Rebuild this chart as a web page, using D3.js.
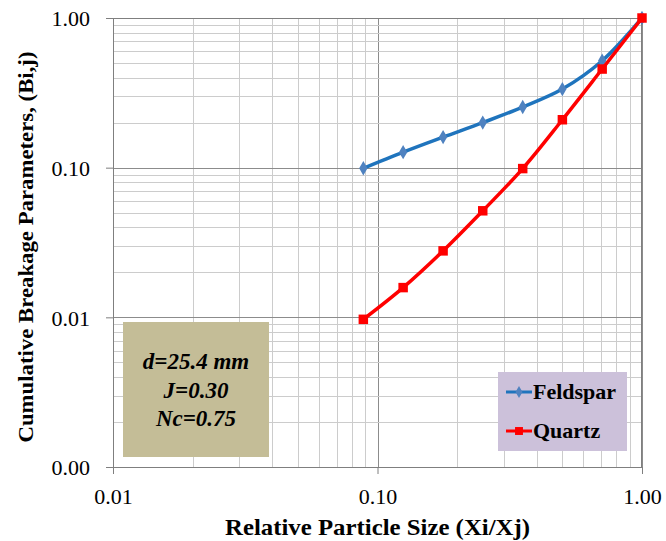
<!DOCTYPE html>
<html>
<head>
<meta charset="utf-8">
<script src="https://cdn.jsdelivr.net/npm/d3@7"></script>
<style>
  body { margin: 0; background: #fff; font-family: "Liberation Serif", serif; }
</style>
</head>
<body>
<svg id="chart" font-family="Liberation Serif"></svg>
<script>
// relative particle size (Xi/Xj)
const sizes = [0.0884, 0.125, 0.177, 0.25, 0.354, 0.5, 0.707, 1.0];
const feldspar = [0.099, 0.127, 0.16, 0.2, 0.254, 0.335, 0.518, 1.0];
const quartz = [0.0097, 0.0158, 0.0278, 0.0515, 0.0986, 0.209, 0.456, 1.0];
const seriesNames = ["Feldspar", "Quartz"];
const xTicks = [0.01, 0.1, 1];
const yTicks = [0.001, 0.01, 0.1, 1];
const infoLines = ["d=25.4 mm", "J=0.30", "Nc=0.75"];

const serif = "Liberation Serif";

const margin = { top: 18, right: 24, bottom: 74, left: 113 },
  width = 666 - margin.left - margin.right,
  height = 541 - margin.top - margin.bottom;

const svg = d3
  .select("#chart")
  .attr("width", width + margin.left + margin.right)
  .attr("height", height + margin.top + margin.bottom)
  .append("g")
  .attr("transform", "translate(" + margin.left + "," + margin.top + ")");

const x = d3.scaleLog().domain([0.01, 1]).range([0, width]);
const y = d3.scaleLog().domain([0.001, 1]).range([height, 0]);

// minor + major grid
function logGrid(lo, hi) {
  const out = [];
  for (let e = Math.log10(lo); e < Math.log10(hi); e++) {
    for (let m = 1; m < 10; m++) out.push({ v: m * Math.pow(10, e), major: m === 1 });
  }
  out.push({ v: hi, major: true });
  return out;
}

const xg = logGrid(0.01, 1);
const yg = logGrid(0.001, 1);

svg
  .selectAll(".vgrid")
  .data(xg)
  .enter()
  .append("line")
  .attr("x1", (d) => Math.round(x(d.v)) + 0.5)
  .attr("x2", (d) => Math.round(x(d.v)) + 0.5)
  .attr("y1", 0)
  .attr("y2", height)
  .attr("stroke", (d) => (d.major ? "#8c8c8c" : "#cccccc"))
  .attr("stroke-width", 1);

svg
  .selectAll(".hgrid")
  .data(yg)
  .enter()
  .append("line")
  .attr("y1", (d) => Math.round(y(d.v)) + 0.5)
  .attr("y2", (d) => Math.round(y(d.v)) + 0.5)
  .attr("x1", 0)
  .attr("x2", width)
  .attr("stroke", (d) => (d.major ? "#8c8c8c" : "#cccccc"))
  .attr("stroke-width", 1);

// axes
const fmt = d3.format(".2f");
const xAxis = svg
  .append("g")
  .attr("transform", "translate(0," + height + ")")
  .call(d3.axisBottom(x).tickValues(xTicks).tickFormat(fmt).tickSizeOuter(0).tickSize(7).tickPadding(14));
const yAxis = svg
  .append("g")
  .call(d3.axisLeft(y).tickValues(yTicks).tickFormat(fmt).tickSizeOuter(0).tickSize(7).tickPadding(16));

[xAxis, yAxis].forEach((a) => {
  a.attr("font-family", serif).attr("font-size", 22);
  a.select(".domain").attr("stroke", "#7f7f7f");
  a.selectAll(".tick line").attr("stroke", "#7f7f7f");
  a.selectAll("text").attr("fill", "#000");
});
yAxis.selectAll("text").attr("dy", "0.35em");

// top and right border
svg.append("line").attr("x1", 0).attr("x2", width).attr("y1", 0.5).attr("y2", 0.5).attr("stroke", "#7f7f7f");
svg.append("line").attr("x1", width - 0.5).attr("x2", width - 0.5).attr("y1", 0).attr("y2", height).attr("stroke", "#7f7f7f");

// axis titles
svg
  .append("text")
  .attr("x", x(0.1))
  .attr("y", height + 68)
  .attr("text-anchor", "middle")
  .attr("font-family", serif)
  .attr("font-size", 23)
  .attr("font-weight", "bold")
  .attr("textLength", 305)
  .attr("lengthAdjust", "spacingAndGlyphs")
  .text("Relative Particle Size (Xi/Xj)");

svg
  .append("text")
  .attr("transform", "rotate(-90)")
  .attr("x", -(247 - margin.top))
  .attr("y", 33 - margin.left)
  .attr("text-anchor", "middle")
  .attr("font-family", serif)
  .attr("font-size", 22)
  .attr("font-weight", "bold")
  .attr("textLength", 391)
  .attr("lengthAdjust", "spacingAndGlyphs")
  .text("Cumulative Breakage Parameters, (Bi,j)");

// series
const data = [
  { name: seriesNames[0], values: feldspar, color: "#1f74bd", marker: "#4f82c0", shape: d3.symbolDiamond, size: 60 },
  { name: seriesNames[1], values: quartz, color: "#ff0000", marker: "#ff0000", shape: d3.symbolSquare, size: 90 },
];

const line = d3
  .line()
  .x((d) => x(d[0]))
  .y((d) => y(d[1]))
  .curve(d3.curveCatmullRom.alpha(0.5));

data.forEach((s) => {
  const pts = sizes.map((v, i) => [v, s.values[i]]);
  svg
    .append("path")
    .datum(pts)
    .attr("fill", "none")
    .attr("stroke", s.color)
    .attr("stroke-width", 3.5)
    .attr("d", line);
  svg
    .selectAll(null)
    .data(pts)
    .enter()
    .append("path")
    .attr("transform", (d) => "translate(" + x(d[0]) + "," + y(d[1]) + ")")
    .attr("d", d3.symbol().type(s.shape).size(s.size))
    .attr("fill", s.marker);
});

// info box
const info = svg.append("g").attr("transform", "translate(" + (123 - margin.left) + "," + (322 - margin.top) + ")");
info.append("rect").attr("width", 146).attr("height", 135).attr("fill", "#c4bd97");
info
  .selectAll("text")
  .data(infoLines)
  .enter()
  .append("text")
  .attr("x", 73)
  .attr("y", (d, i) => 47 + i * 28.5)
  .attr("text-anchor", "middle")
  .attr("font-family", serif)
  .attr("font-size", 23)
  .attr("font-weight", "bold")
  .attr("font-style", "italic")
  .text((d) => d);

// legend
const legend = svg.append("g").attr("transform", "translate(" + (498 - margin.left) + "," + (372 - margin.top) + ")");
legend.append("rect").attr("width", 129).attr("height", 79).attr("fill", "#ccc1da");
data.forEach((s, i) => {
  const ly = 20 + i * 39;
  legend
    .append("line")
    .attr("x1", 8)
    .attr("x2", 34)
    .attr("y1", ly)
    .attr("y2", ly)
    .attr("stroke", s.color)
    .attr("stroke-width", 3);
  legend
    .append("path")
    .attr("transform", "translate(21," + ly + ")")
    .attr("d", d3.symbol().type(s.shape).size(s.size * 0.7))
    .attr("fill", s.marker);
  legend
    .append("text")
    .attr("x", 35)
    .attr("y", ly + 7)
    .attr("font-family", serif)
    .attr("font-size", 22)
    .attr("font-weight", "bold")
    .text(s.name);
});
</script>
</body>
</html>
